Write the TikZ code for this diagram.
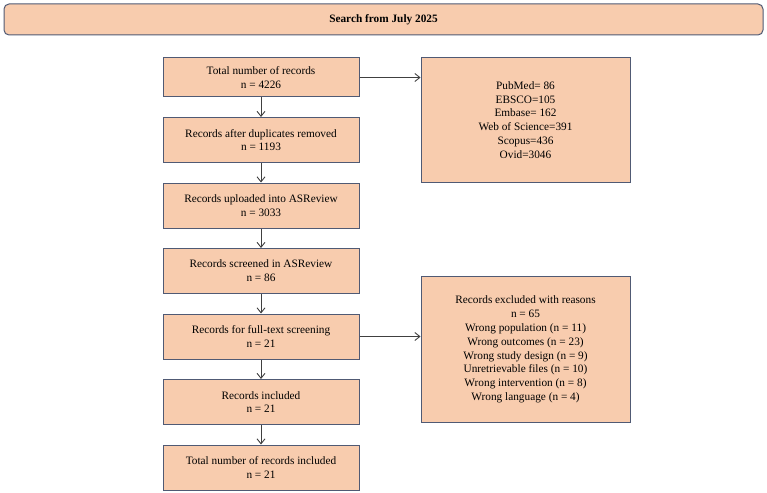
\documentclass[tikz,border=0pt]{standalone}
\usepackage{fontspec}
\setmainfont{Liberation Serif}
\usepackage{tikz}
\usetikzlibrary{shapes,arrows.meta,positioning}
\definecolor{boxfill}{RGB}{248,204,174}
\definecolor{boxline}{RGB}{80,90,116}
\definecolor{arrowgray}{RGB}{64,64,64}

\begin{document}
\begin{tikzpicture}[x=1pt, y=1pt, node distance=19.5pt,
  font=\fontsize{11.3}{13.8}\selectfont,
  banner/.style={rectangle,rounded corners=5pt,draw=boxline,fill=boxfill,line width=1pt,minimum width=759pt,minimum height=31pt,font=\fontsize{11.3}{13.8}\selectfont\bfseries},
  record/.style={rectangle,draw=boxline,fill=boxfill,line width=1pt,minimum width=196pt,minimum height=45pt,align=center,inner sep=2pt},
  side/.style={record,minimum width=209pt},
  arrow/.style={-{Straight Barb[length=5pt,width=8pt]},line width=0.9pt,draw=arrowgray}]
  \useasboundingbox (0,0) rectangle (767,-492);
  \node[banner] (search) at (383.5,-19.5) {Search from July 2025};
  % main column
  \node[record,minimum height=39pt] (total) at (261,-77.5) {Total number of records\\n = 4226};
  \node[record,below=of total] (dedup) {Records after duplicates removed\\n = 1193};
  \node[record,below=of dedup] (upload) {Records uploaded into ASReview\\n = 3033};
  \node[record,below=of upload] (screen) {Records screened in ASReview\\n = 86};
  \node[record,below=of screen] (fulltext) {Records for full-text screening\\n = 21};
  \node[record,below=of fulltext] (included) {Records included\\n = 21};
  \node[record,below=of included] (final) {Total number of records included\\n = 21};
  % side boxes
  \node[side,minimum height=124pt,right=61pt of total.north east,anchor=north west] (sources)
    {PubMed= 86\\EBSCO=105\\Embase= 162\\Web of Science=391\\Scopus=436\\Ovid=3046};
  \node[side,minimum height=146pt,right=61pt of fulltext,yshift=-13pt] (excluded)
    {Records excluded with reasons\\n = 65\\Wrong population (n = 11)\\Wrong outcomes (n = 23)\\Wrong study design (n = 9)\\Unretrievable files (n = 10)\\Wrong intervention (n = 8)\\Wrong language (n = 4)};
  \draw[arrow] (total) -- (dedup);
  \draw[arrow] (dedup) -- (upload);
  \draw[arrow] (upload) -- (screen);
  \draw[arrow] (screen) -- (fulltext);
  \draw[arrow] (fulltext) -- (included);
  \draw[arrow] (included) -- (final);
  \draw[arrow] (total.east) -- (total.east -| sources.west);
  \draw[arrow] (fulltext.east) -- (fulltext.east -| excluded.west);
\end{tikzpicture}
\end{document}
